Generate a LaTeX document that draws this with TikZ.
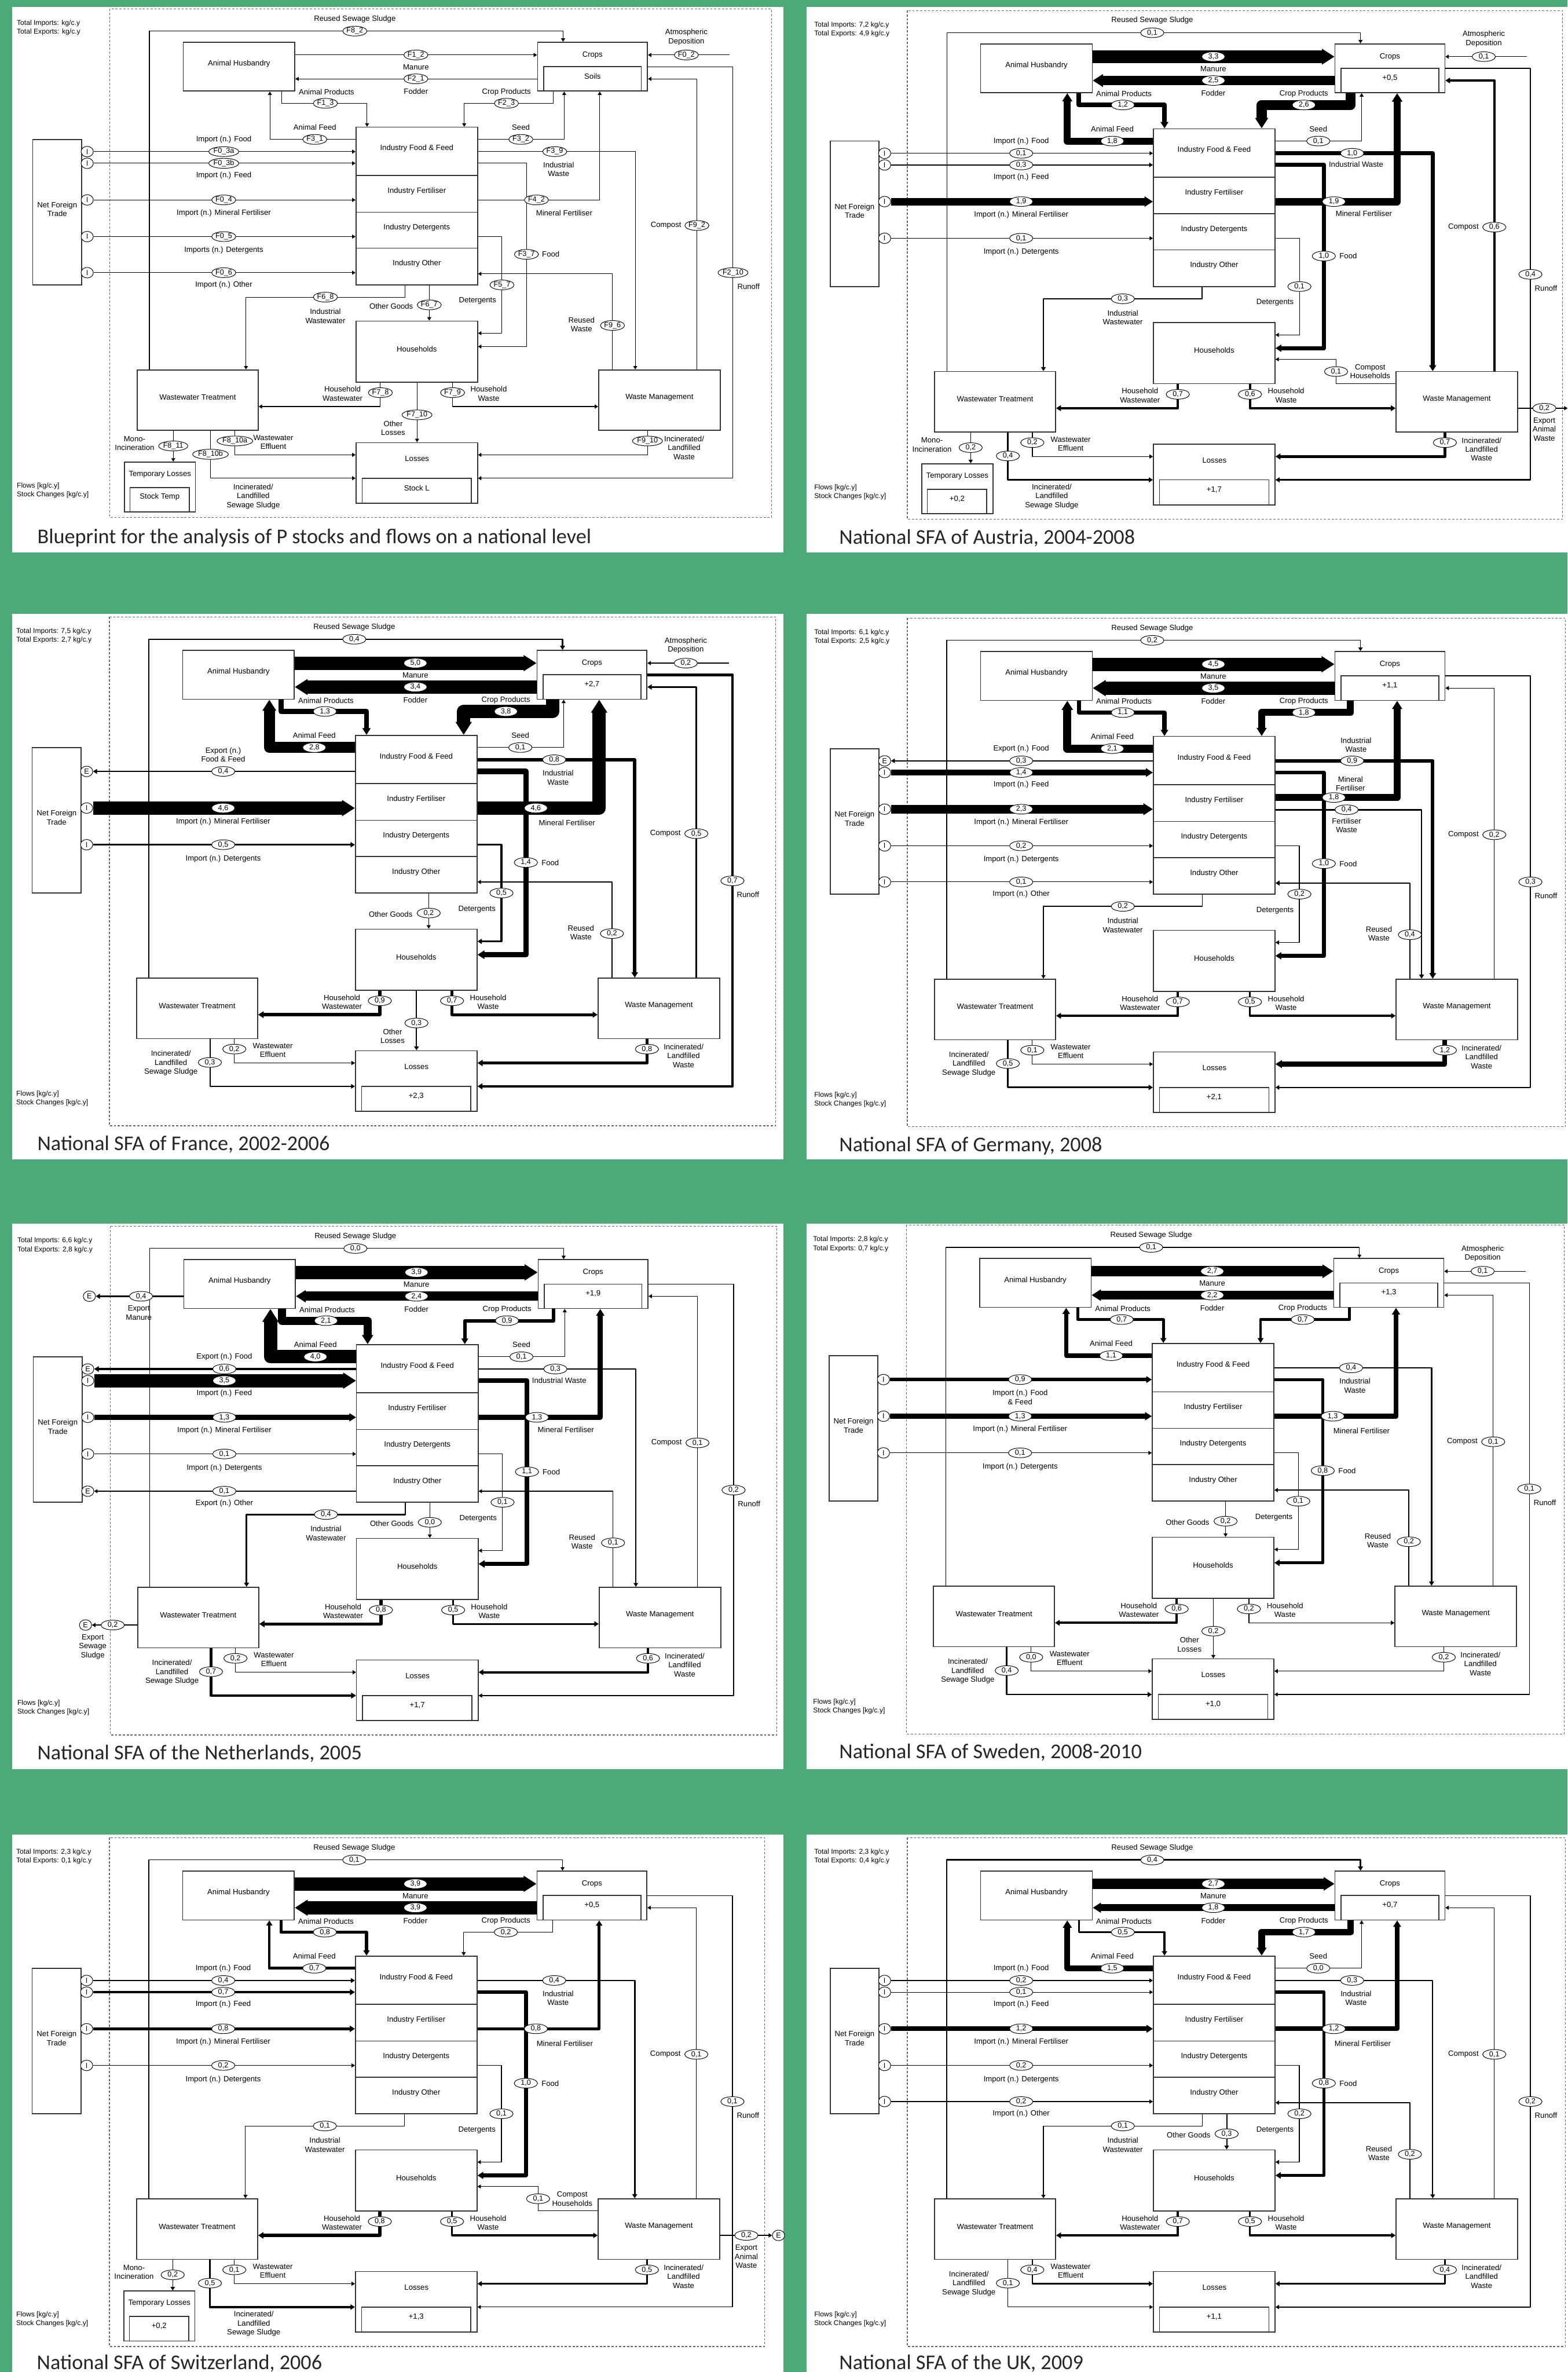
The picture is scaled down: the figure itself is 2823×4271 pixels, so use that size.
\documentclass[tikz,border=0pt]{standalone}
\usepackage{fontspec}
\setmainfont{Liberation Sans}
\newfontfamily\capfamily{Carlito}
\usetikzlibrary{arrows.meta,shapes.geometric,fit}

\definecolor{panelgreen}{RGB}{75,170,120}
\newcommand\labfont{\fontsize{7.8}{9.1}\selectfont}
\newcommand\valfont{\fontsize{7.5}{8}\selectfont}
\newcommand\notefont{\fontsize{7.2}{9}\selectfont}
\newcommand\capfont{\capfamily\fontsize{21.5}{24}\selectfont}

\tikzset{
  box/.style={draw=black!80, line width=0.33mm, fill=white, inner sep=0pt, font=\labfont, align=center},
  val/.style={ellipse, draw, fill=white, line width=0.2mm, inner sep=0.2pt, minimum width=8.4mm, minimum height=3.5mm, font=\valfont},
  trade/.style={ellipse, draw, fill=white, line width=0.2mm, inner sep=0pt, minimum width=4.4mm, minimum height=3.8mm, font=\valfont},
  lbl/.style={font=\labfont, align=center, inner sep=0.5pt},
  note/.style={font=\notefont, align=left, inner sep=0pt, anchor=north west},
  flow/.style={draw=black, line join=round, line width={max(0.63,min(3.98*#1,13.66))}, -{Triangle[length=3pt 0.75,width=3.5pt 0.9]}},
  dashbox/.style={draw=black!60, line width=0.25mm, dash pattern=on 0.8mm off 0.6mm},
  captext/.style={anchor=west, font=\capfont, text=black!85, inner sep=0pt}
}

% boxes of one panel: frame width, imports, exports, crop stock, loss stock
\newcommand\sfaframe[5]{%
  \draw[dashbox] (0,0) rectangle (#1,916);
  \node[box, fit={(132,60) (333,148)}] (ah) {Animal Husbandry};
  \node[box, fit={(770,60) (968,148)}] (crop) {};
  \node[lbl] (crop-t) at (869,83) {Crops};
  \node[box, fit={(781,104) (957,148)}] (crop-s) {#4};
  \node[box, fit={(443,213) (662,300)}] (iff) {Industry Food \& Feed};
  \node[box, fit={(443,300) (662,366)}] (ife) {Industry Fertiliser};
  \node[box, fit={(443,366) (662,431)}] (idt) {Industry Detergents};
  \node[box, fit={(443,431) (662,497)}] (iot) {Industry Other};
  \node[box, fit={(-139,235) (-51,497)}] (nft) {Net Foreign\\Trade};
  \node[box, fit={(443,562) (662,672)}] (hh) {Households};
  \node[box, fit={(49,650) (267,759)}] (wwt) {Wastewater Treatment};
  \node[box, fit={(880,650) (1099,759)}] (wm) {Waste Management};
  \node[box, fit={(443,781) (662,890)}] (los) {};
  \node[lbl] (los-t) at (553,810) {Losses};
  \node[box, fit={(454,845) (651,890)}] (los-s) {#5};
  \node[note] (tot) at (-168,20) {Total Imports: #2\\Total Exports: #3};
  \node[note] (unit) at (-168,853) {Flows [kg/c.y]\\Stock Changes [kg/c.y]};}
\newcommand\tmpbox[1]{%
  \node[box, fit={(26,816) (154,906)}] (tmp) {};
  \node[lbl] (tmp-t) at (90,838) {Temporary Losses};
  \node[box, fit={(36,862) (143,906)}] (tmp-s) {#1};}

% flows: #1 printed value, #2 value for the width
\newcommand\flRSS[2]{%
  \draw[flow=#2] (wwt.north -| 71,0) |- (816,40) -- (crop.north -| 816,0);
  \node[val] (v-rss) at (441,40) {#1};
  \node[lbl] (l-rss) at (441,18) {Reused Sewage Sludge};}
\newcommand\flManure[2]{%
  \draw[flow=#2] (ah.east |- 0,83) -- (crop.west |- 0,83);
  \node[val] (v-man) at (551,83) {#1};
  \node[lbl] (l-man) at (551,105) {Manure};}
\newcommand\flFodder[2]{%
  \draw[flow=#2] (crop.west |- 0,126) -- (ah.east |- 0,126);
  \node[val] (v-fod) at (551,126) {#1};
  \node[lbl] (l-fod) at (551,149) {Fodder};}
\newcommand\flAnProd[2]{%
  \draw[flow=#2] (ah.south -| 309,0) |- (463,170) -- (iff.north -| 463,0);
  \node[val] (v-anp) at (388,170) {#1};
  \node[lbl] (l-anp) at (390,150) {Animal Products};}
\newcommand\flAnFeed[2]{%
  \draw[flow=#2] (iff.west |- 0,235) -| (ah.south -| 288,0);
  \node[val] (v-anf) at (369,235) {#1};
  \node[lbl] (l-anf) at (369,213) {Animal Feed};}
\newcommand\flCropProd[2]{%
  \draw[flow=#2] (crop.south -| 798,0) |- (638,170) -- (iff.north -| 638,0);
  \node[val] (v-crp) at (714,170) {#1};
  \node[lbl] (l-crp) at (714,150) {Crop Products};}
\newcommand\flSeed[2]{%
  \draw[flow=#2] (iff.east |- 0,235) -| (crop.south -| 818,0);
  \node[val] (v-sed) at (740,235) {#1};
  \node[lbl] (l-sed) at (740,213) {Seed};}
\newcommand\flAtmo[2]{%
  \coordinate (atm) at (1116,83);
  \draw[flow=#2] (atm) -- (crop.east |- atm);
  \node[val] (v-atm) at (1038,83) {#1};
  \node[lbl] (l-atm) at (1038,51) {Atmospheric\\Deposition};}
% trade: #1 industry box, #2 row, #3 value, #4 width, #5 label, #6 label row
\newcommand\flImp[6]{%
  \node[trade] (t-#2) at (-41,#2) {I};
  \draw[flow=#4] (t-#2.east) -- (#1.west |- t-#2);
  \node[val] (v-#2) at (205,#2) {#3};
  \node[lbl] (l-#2) at (205,#6) {#5};}
\newcommand\flExp[6]{%
  \node[trade] (t-#2) at (-41,#2) {E};
  \draw[flow=#4] (#1.west |- t-#2) -- (t-#2.east);
  \node[val] (v-#2) at (205,#2) {#3};
  \node[lbl] (l-#2) at (205,#6) {#5};}
\newcommand\flIndWaste[4]{%
  \draw[flow=#2] (iff.east |- 0,257) -| (wm.north -| 946,0);
  \node[val] (v-iw) at (801,257) {#1};
  \node[lbl] (l-iw) at (808,#3) {#4};}
\newcommand\flFood[2]{%
  \draw[flow=#2] (iff.east |- 0,278) -| (750,608) -- (hh.east |- 0,608);
  \node[val] (v-fd) at (750,442) {#1};
  \node[lbl, anchor=west] (l-fd) at (777,442) {Food};}
\newcommand\flMinFert[5]{%
  \draw[flow=#2] (ife.east |- 0,#3) -| (crop.south -| 882,0);
  \node[val] (v-mf) at (768,#3) {#1};
  \node[lbl] (l-mf) at (#4) {#5};}
\newcommand\flFertWaste[2]{%
  \draw[flow=#2] (ife.east |- 0,345) -| (wm.north -| 926,0);
  \node[val] (v-fw) at (791,345) {#1};
  \node[lbl] (l-fw) at (791,373) {Fertiliser\\Waste};}
\newcommand\flDeterg[2]{%
  \draw[flow=#2] (idt.east |- 0,410) -| (706,584) -- (hh.east |- 0,584);
  \node[val] (v-dt) at (706,497) {#1};
  \node[lbl] (l-dt) at (662,526) {Detergents};}
\newcommand\flOthGoods[2]{%
  \draw[flow=#2] (iot.south -| 575,0) -- (hh.north -| 575,0);
  \node[val] (v-og) at (575,533) {#1};
  \node[lbl, anchor=east] (l-og) at (547,535) {Other Goods};}
\newcommand\flIndWW[2]{%
  \draw[flow=#2] (iot.south -| 531,0) |- (245,519) -- (wwt.north -| 245,0);
  \node[val] (v-ww) at (388,519) {#1};
  \node[lbl] (l-ww) at (388,553) {Industrial\\Wastewater};}
\newcommand\flReusedW[2]{%
  \draw[flow=#2] (wm.north -| 905,0) |- (iot.east |- 0,477);
  \node[val] (v-rw) at (905,570) {#1};
  \node[lbl, anchor=east] (l-rw) at (874,568) {Reused\\Waste};}
\newcommand\flCompost[2]{%
  \draw[flow=#2] (wm.north -| 1057,0) |- (crop.east |- 0,126);
  \node[val] (v-cp) at (1057,390) {#1};
  \node[lbl, anchor=east] (l-cp) at (1030,390) {Compost};}
\newcommand\flRunoff[2]{%
  \draw[flow=#2] (crop.east |- 0,104) -| (1122,845) -- (los.east |- 0,845);
  \node[val] (v-ro) at (1122,475) {#1};
  \node[lbl] (l-ro) at (1150,500) {Runoff};}
\newcommand\flCompHH[2]{%
  \draw[flow=#2] (wm.west |- 0,672) -| (772,628) -- (hh.east |- 0,628);
  \node[val] (v-ch) at (772,650) {#1};
  \node[lbl, anchor=west] (l-ch) at (796,650) {Compost\\Households};}
\newcommand\flHHWW[2]{%
  \draw[flow=#2] (hh.south -| 487,0) |- (wwt.east |- 0,716);
  \node[val] (v-hw) at (487,691) {#1};
  \node[lbl, anchor=east] (l-hw) at (456,693) {Household\\Wastewater};}
\newcommand\flHHWaste[2]{%
  \draw[flow=#2] (hh.south -| 617,0) |- (wm.west |- 0,716);
  \node[val] (v-hs) at (617,691) {#1};
  \node[lbl, anchor=west] (l-hs) at (648,693) {Household\\Waste};}
\newcommand\flOthLoss[2]{%
  \draw[flow=#2] (hh.south -| 553,0) -- (los.north -| 553,0);
  \node[val] (v-ol) at (553,731) {#1};
  \node[lbl] (l-ol) at (510,755) {Other\\Losses};}
\newcommand\flEffl[2]{%
  \draw[flow=#2] (wwt.south -| 225,0) |- (los.west |- 0,803);
  \node[val] (v-ef) at (225,778) {#1};
  \node[lbl, anchor=west] (l-ef) at (257,780) {Wastewater\\Effluent};}
\newcommand\flSludge[4]{%
  \draw[flow=#2] (wwt.south -| 181,0) |- (los.west |- 0,845);
  \node[val] (v-sl) at (181,802) {#1};
  \node[lbl, anchor=#4] (l-sl) at (#3) {Incinerated/\\Landfilled\\Sewage Sludge};}
\newcommand\flMono[2]{%
  \draw[flow=#2] (wwt.south -| 114,0) -- (tmp.north -| 114,0);
  \node[val] (v-mo) at (114,787) {#1};
  \node[lbl, anchor=east] (l-mo) at (81,782) {Mono-\\Incineration};}
\newcommand\flIncWaste[2]{%
  \draw[flow=#2] (wm.south -| 968,0) |- (los.east |- 0,803);
  \node[val] (v-iv) at (968,778) {#1};
  \node[lbl, anchor=west] (l-iv) at (997,790) {Incinerated/\\Landfilled\\Waste};}
\newcommand\flExpAW[2]{%
  \node[trade] (t-aw) at (1205,716) {E};
  \draw[flow=#2] (wm.east |- t-aw) -- (t-aw.west);
  \node[val] (v-aw) at (1147,716) {#1};
  \node[lbl] (l-aw) at (1147,754) {Export\\Animal\\Waste};}
\newcommand\flExpAWcut[2]{%
  \coordinate (aw-end) at (1189,716);
  \draw[flow=#2] (wm.east |- aw-end) -- (aw-end);
  \node[val] (v-aw) at (1147,716) {#1};
  \node[lbl] (l-aw) at (1147,754) {Export\\Animal\\Waste};}
\newcommand\flExpMan[2]{%
  \node[trade] (t-em) at (-38,126) {E};
  \draw[flow=#2] (ah.west |- t-em) -- (t-em.east);
  \node[val] (v-em) at (55,126) {#1};
  \node[lbl] (l-em) at (51,156) {Export\\Manure};}
\newcommand\flExpSS[2]{%
  \node[trade] (t-es) at (-45,718) {E};
  \draw[flow=#2] (wwt.west |- t-es) -- (t-es.east);
  \node[val] (v-es) at (4,718) {#1};
  \node[lbl] (l-es) at (-32,757) {Export\\Sewage\\Sludge};}

\begin{document}
\begin{tikzpicture}[x=0.2mm, y=-0.2mm]
\useasboundingbox (0,0) rectangle (2823,4271);
\clip (0,0) rectangle (2823,4271);
\fill[panelgreen] (0,0) rectangle (2823,4271);
\foreach \cx/\cw in {22/1389, 1452/1371}
  \foreach \ry/\rh in {13/982, 1105/983, 2203/983, 3303/968}
    \fill[white] (\cx,\ry) rectangle ++(\cw,\rh);

% blueprint
\begin{scope}[shift={(198,16)}, name prefix=bp-]
\sfaframe{1191}{kg/c.y}{kg/c.y}{Soils}{Stock L}
\tmpbox{Stock Temp}
\flRSS{F8\_2}{0}
\flManure{F1\_2}{0}
\flFodder{F2\_1}{0}
\flAnProd{F1\_3}{0}
\flAnFeed{F3\_1}{0}
\flCropProd{F2\_3}{0}
\flSeed{F3\_2}{0}
\flAtmo{F0\_2}{0}
\flImp{iff}{257}{F0\_3a}{0}{Import (n.) Food}{235}
\flImp{iff}{278}{F0\_3b}{0}{Import (n.) Feed}{300}
\flImp{ife}{344}{F0\_4}{0}{Import (n.) Mineral Fertiliser}{368}
\flImp{idt}{410}{F0\_5}{0}{Imports (n.) Detergents}{435}
\flImp{iot}{475}{F0\_6}{0}{Import (n.) Other}{497}
\flIndWaste{F3\_9}{0}{289}{Industrial\\Waste}
\flFood{F3\_7}{0}
\flMinFert{F4\_2}{0}{344}{818,368}{Mineral Fertiliser}
\flDeterg{F5\_7}{0}
\flOthGoods{F6\_7}{0}
\flIndWW{F6\_8}{0}
\flReusedW{F9\_6}{0}
\flCompost{F9\_2}{0}
\flRunoff{F2\_10}{0}
\flHHWW{F7\_8}{0}
\flHHWaste{F7\_9}{0}
\flOthLoss{F7\_10}{0}
\flEffl{F8\_10a}{0}
\flSludge{F8\_10b}{0}{258,878}{center}
\flMono{F8\_11}{0}
\flIncWaste{F9\_10}{0}
\node[captext] (caption) at (-131,952) {Blueprint for the analysis of P stocks and flows on a national level};
\end{scope}

% Austria
\begin{scope}[shift={(1634,19)}, name prefix=at-]
\sfaframe{1180}{7,2 kg/c.y}{4,9 kg/c.y}{+0,5}{+1,7}
\tmpbox{+0,2}
\flRSS{0,1}{0.1}
\flManure{3,3}{3.3}
\flFodder{2,5}{2.5}
\flAnProd{1,2}{1.2}
\flAnFeed{1,8}{1.8}
\flCropProd{2,6}{2.6}
\flSeed{0,1}{0.1}
\flAtmo{0,1}{0.1}
\flImp{iff}{257}{0,1}{0.1}{Import (n.) Food}{235}
\flImp{iff}{278}{0,3}{0.3}{Import (n.) Feed}{300}
\flImp{ife}{344}{1,9}{1.9}{Import (n.) Mineral Fertiliser}{368}
\flImp{idt}{410}{0,1}{0.1}{Import (n.) Detergents}{435}
\flIndWaste{1,0}{1.0}{277}{Industrial Waste}
\flFood{1,0}{1.0}
\flMinFert{1,9}{1.9}{344}{822,366}{Mineral Fertiliser}
\flDeterg{0,1}{0.1}
\flIndWW{0,3}{0.3}
\flCompost{0,6}{0.6}
\flRunoff{0,4}{0.4}
\flCompHH{0,1}{0.1}
\flHHWW{0,7}{0.7}
\flHHWaste{0,6}{0.6}
\flEffl{0,2}{0.2}
\flSludge{0,4}{0.4}{260,875}{center}
\flMono{0,2}{0.2}
\flIncWaste{0,7}{0.7}
\flExpAWcut{0,2}{0.2}
\node[captext] (caption) at (-123,950) {National SFA of Austria, 2004-2008};
\end{scope}

% France
\begin{scope}[shift={(197,1111)}, name prefix=fr-]
\sfaframe{1200}{7,5 kg/c.y}{2,7 kg/c.y}{+2,7}{+2,3}
\flRSS{0,4}{0.4}
\flManure{5,0}{5.0}
\flFodder{3,4}{3.4}
\flAnProd{1,3}{1.3}
\flAnFeed{2,8}{2.8}
\flCropProd{3,8}{3.8}
\flSeed{0,1}{0.1}
\flAtmo{0,2}{0.2}
\flExp{iff}{278}{0,4}{0.4}{Export (n.)\\Food \& Feed}{248}
\flImp{ife}{344}{4,6}{4.6}{Import (n.) Mineral Fertiliser}{369}
\flImp{idt}{410}{0,5}{0.5}{Import (n.) Detergents}{435}
\flIndWaste{0,8}{0.8}{289}{Industrial\\Waste}
\flFood{1,4}{1.4}
\flMinFert{4,6}{4.6}{344}{824,371}{Mineral Fertiliser}
\flDeterg{0,5}{0.5}
\flOthGoods{0,2}{0.2}
\flReusedW{0,2}{0.2}
\flCompost{0,5}{0.5}
\flRunoff{0,7}{0.7}
\flHHWW{0,9}{0.9}
\flHHWaste{0,7}{0.7}
\flOthLoss{0,3}{0.3}
\flEffl{0,2}{0.2}
\flSludge{0,3}{0.3}{160,803}{east}
\flIncWaste{0,8}{0.8}
\node[captext] (caption) at (-130,950) {National SFA of France, 2002-2006};
\end{scope}

% Germany
\begin{scope}[shift={(1634,1113)}, name prefix=de-]
\sfaframe{1185}{6,1 kg/c.y}{2,5 kg/c.y}{+1,1}{+2,1}
\flRSS{0,2}{0.2}
\flManure{4,5}{4.5}
\flFodder{3,5}{3.5}
\flAnProd{1,1}{1.1}
\flAnFeed{2,1}{2.1}
\flCropProd{1,8}{1.8}
\flExp{iff}{257}{0,3}{0.3}{Export (n.) Food}{235}
\flImp{iff}{278}{1,4}{1.4}{Import (n.) Feed}{300}
\flImp{ife}{344}{2,3}{2.3}{Import (n.) Mineral Fertiliser}{368}
\flImp{idt}{410}{0,2}{0.2}{Import (n.) Detergents}{435}
\flImp{iot}{475}{0,1}{0.1}{Import (n.) Other}{497}
\flIndWaste{0,9}{0.9}{228}{Industrial\\Waste}
\flFood{1,0}{1.0}
\flMinFert{1,8}{1.8}{323}{798,298}{Mineral\\Fertiliser}
\flFertWaste{0,4}{0.4}
\flDeterg{0,2}{0.2}
\flIndWW{0,2}{0.2}
\flReusedW{0,4}{0.4}
\flCompost{0,2}{0.2}
\flRunoff{0,3}{0.3}
\flHHWW{0,7}{0.7}
\flHHWaste{0,5}{0.5}
\flEffl{0,1}{0.1}
\flSludge{0,5}{0.5}{160,803}{east}
\flIncWaste{1,2}{1.2}
\node[captext] (caption) at (-123,950) {National SFA of Germany, 2008};
\end{scope}

% Netherlands
\begin{scope}[shift={(199,2208)}, name prefix=nl-]
\sfaframe{1200}{6,6 kg/c.y}{2,8 kg/c.y}{+1,9}{+1,7}
\flRSS{0,0}{0}
\flManure{3,9}{3.9}
\flFodder{2,4}{2.4}
\flAnProd{2,1}{2.1}
\flAnFeed{4,0}{4.0}
\flCropProd{0,9}{0.9}
\flSeed{0,1}{0.1}
\flExpMan{0,4}{0.4}
\flExp{iff}{257}{0,6}{0.6}{Export (n.) Food}{235}
\flImp{iff}{278}{3,5}{3.5}{Import (n.) Feed}{301}
\flImp{ife}{344}{1,3}{1.3}{Import (n.) Mineral Fertiliser}{368}
\flImp{idt}{410}{0,1}{0.1}{Import (n.) Detergents}{435}
\flExp{iot}{477}{0,1}{0.1}{Export (n.) Other}{499}
\flIndWaste{0,3}{0.3}{278}{Industrial Waste}
\flFood{1,1}{1.1}
\flMinFert{1,3}{1.3}{344}{820,366}{Mineral Fertiliser}
\flDeterg{0,1}{0.1}
\flOthGoods{0,0}{0}
\flIndWW{0,4}{0.4}
\flReusedW{0,1}{0.1}
\flCompost{0,1}{0.1}
\flRunoff{0,2}{0.2}
\flHHWW{0,8}{0.8}
\flHHWaste{0,5}{0.5}
\flEffl{0,2}{0.2}
\flSludge{0,7}{0.7}{160,803}{east}
\flIncWaste{0,6}{0.6}
\flExpSS{0,2}{0.2}
\node[captext] (caption) at (-132,950) {National SFA of the Netherlands, 2005};
\end{scope}

% Sweden
\begin{scope}[shift={(1632,2206)}, name prefix=se-]
\sfaframe{1185}{2,8 kg/c.y}{0,7 kg/c.y}{+1,3}{+1,0}
\flRSS{0,1}{0.1}
\flManure{2,7}{2.7}
\flFodder{2,2}{2.2}
\flAnProd{0,7}{0.7}
\flAnFeed{1,1}{1.1}
\flCropProd{0,7}{0.7}
\flAtmo{0,1}{0.1}
\flImp{iff}{278}{0,9}{0.9}{Import (n.) Food\\\& Feed}{310}
\flImp{ife}{344}{1,3}{1.3}{Import (n.) Mineral Fertiliser}{368}
\flImp{idt}{410}{0,1}{0.1}{Import (n.) Detergents}{435}
\flIndWaste{0,4}{0.4}{289}{Industrial\\Waste}
\flFood{0,8}{0.8}
\flMinFert{1,3}{1.3}{344}{820,370}{Mineral Fertiliser}
\flDeterg{0,1}{0.1}
\flOthGoods{0,2}{0.2}
\flReusedW{0,2}{0.2}
\flCompost{0,1}{0.1}
\flRunoff{0,1}{0.1}
\flHHWW{0,6}{0.6}
\flHHWaste{0,2}{0.2}
\flOthLoss{0,2}{0.2}
\flEffl{0,0}{0}
\flSludge{0,4}{0.4}{160,803}{east}
\flIncWaste{0,2}{0.2}
\node[captext] (caption) at (-121,950) {National SFA of Sweden, 2008-2010};
\end{scope}

% Switzerland
\begin{scope}[shift={(197,3309)}, name prefix=ch-]
\sfaframe{1180}{2,3 kg/c.y}{0,1 kg/c.y}{+0,5}{+1,3}
\tmpbox{+0,2}
\flRSS{0,1}{0.1}
\flManure{3,9}{3.9}
\flFodder{3,9}{3.9}
\flAnProd{0,8}{0.8}
\flAnFeed{0,7}{0.7}
\flCropProd{0,2}{0.2}
\flImp{iff}{257}{0,4}{0.4}{Import (n.) Food}{235}
\flImp{iff}{278}{0,7}{0.7}{Import (n.) Feed}{300}
\flImp{ife}{344}{0,8}{0.8}{Import (n.) Mineral Fertiliser}{368}
\flImp{idt}{410}{0,2}{0.2}{Import (n.) Detergents}{435}
\flIndWaste{0,4}{0.4}{289}{Industrial\\Waste}
\flFood{1,0}{1.0}
\flMinFert{0,8}{0.8}{344}{820,370}{Mineral Fertiliser}
\flDeterg{0,1}{0.1}
\flIndWW{0,1}{0.1}
\flCompost{0,1}{0.1}
\flRunoff{0,1}{0.1}
\flCompHH{0,1}{0.1}
\flHHWW{0,8}{0.8}
\flHHWaste{0,5}{0.5}
\flEffl{0,1}{0.1}
\flSludge{0,5}{0.5}{260,875}{center}
\flMono{0,2}{0.2}
\flIncWaste{0,5}{0.5}
\flExpAW{0,2}{0.2}
\node[captext] (caption) at (-131,947) {National SFA of Switzerland, 2006};
\end{scope}

% United Kingdom
\begin{scope}[shift={(1634,3309)}, name prefix=uk-]
\sfaframe{1185}{2,3 kg/c.y}{0,4 kg/c.y}{+0,7}{+1,1}
\flRSS{0,4}{0.4}
\flManure{2,7}{2.7}
\flFodder{1,8}{1.8}
\flAnProd{0,5}{0.5}
\flAnFeed{1,5}{1.5}
\flCropProd{1,7}{1.7}
\flSeed{0,0}{0}
\flImp{iff}{257}{0,2}{0.2}{Import (n.) Food}{235}
\flImp{iff}{278}{0,1}{0.1}{Import (n.) Feed}{300}
\flImp{ife}{344}{1,2}{1.2}{Import (n.) Mineral Fertiliser}{368}
\flImp{idt}{410}{0,2}{0.2}{Import (n.) Detergents}{435}
\flImp{iot}{475}{0,2}{0.2}{Import (n.) Other}{497}
\flIndWaste{0,3}{0.3}{289}{Industrial\\Waste}
\flFood{0,8}{0.8}
\flMinFert{1,2}{1.2}{344}{820,370}{Mineral Fertiliser}
\flDeterg{0,2}{0.2}
\flOthGoods{0,3}{0.3}
\flIndWW{0,1}{0.1}
\flReusedW{0,2}{0.2}
\flCompost{0,1}{0.1}
\flRunoff{0,2}{0.2}
\flHHWW{0,7}{0.7}
\flHHWaste{0,5}{0.5}
\flEffl{0,4}{0.4}
\flSludge{0,1}{0.1}{160,803}{east}
\flIncWaste{0,4}{0.4}
\node[captext] (caption) at (-123,947) {National SFA of the UK, 2009};
\end{scope}
\end{tikzpicture}
\end{document}
